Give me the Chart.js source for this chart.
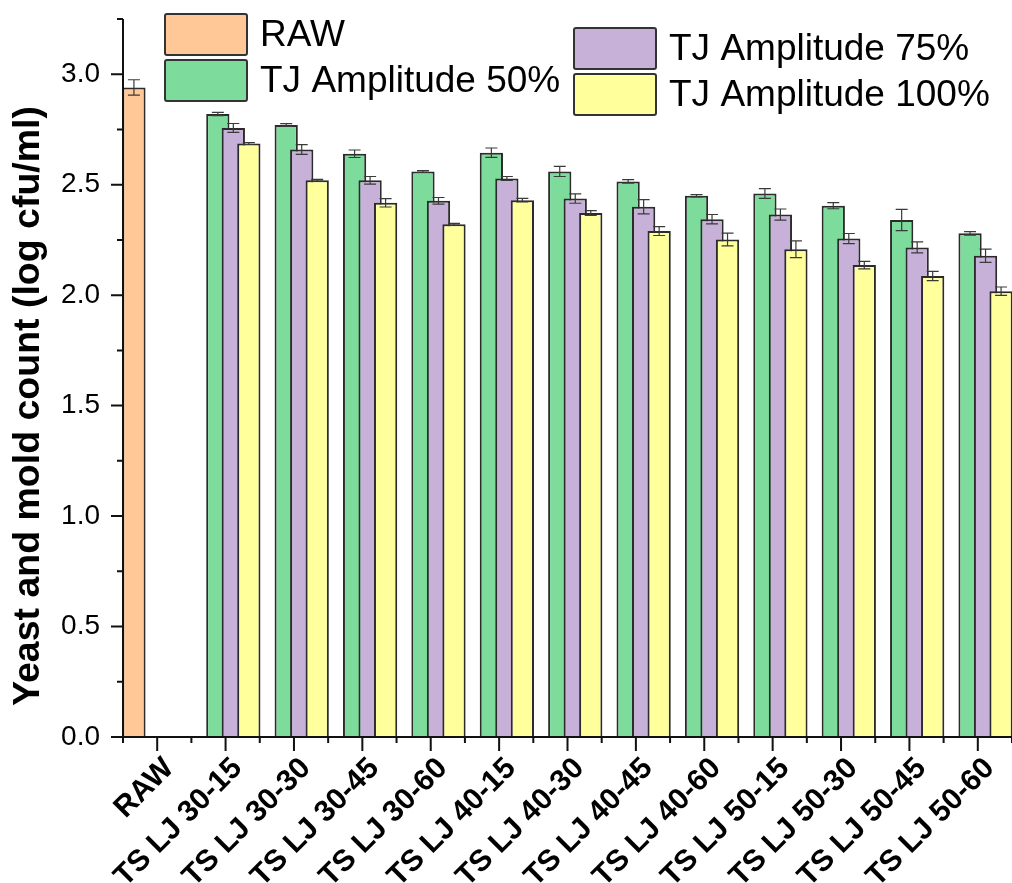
<!DOCTYPE html>
<html>
<head>
<meta charset="utf-8">
<script src="https://cdn.jsdelivr.net/npm/chart.js@4.4.1/dist/chart.umd.min.js"></script>
<style>
  body { margin: 0; background: #fff; }
  #wrap { width: 1012px; height: 883px; position: relative; }
</style>
</head>
<body>
<div id="wrap"><canvas id="chart"></canvas></div>
<script>
// categories on the x axis
const categories = ['RAW', 'TS LJ 30-15', 'TS LJ 30-30', 'TS LJ 30-45', 'TS LJ 30-60',
  'TS LJ 40-15', 'TS LJ 40-30', 'TS LJ 40-45', 'TS LJ 40-60',
  'TS LJ 50-15', 'TS LJ 50-30', 'TS LJ 50-45', 'TS LJ 50-60'];

const seriesNames = ['RAW', 'TJ Amplitude 50%', 'TJ Amplitude 75%', 'TJ Amplitude 100%'];
const yTitle = 'Yeast and mold count (log cfu/ml)';

// raw sample (only first category)
const rawMean = [2.94];
const rawErr = [0.035];

// treated samples, TS LJ 30-15 ... TS LJ 50-60
const amp50 = [2.82, 2.77, 2.64, 2.56, 2.645, 2.56, 2.515, 2.45, 2.46, 2.405, 2.34, 2.28];
const amp50Err = [0.007, 0.006, 0.017, 0.004, 0.021, 0.023, 0.008, 0.005, 0.022, 0.014, 0.048, 0.008];
const amp75 = [2.757, 2.659, 2.52, 2.427, 2.528, 2.437, 2.40, 2.344, 2.365, 2.256, 2.216, 2.178];
const amp75Err = [0.02, 0.022, 0.017, 0.015, 0.009, 0.021, 0.032, 0.021, 0.025, 0.023, 0.025, 0.030];
const amp100 = [2.686, 2.52, 2.418, 2.321, 2.43, 2.372, 2.29, 2.252, 2.208, 2.136, 2.087, 2.018];
const amp100Err = [0.004, 0.004, 0.019, 0.004, 0.008, 0.011, 0.02, 0.029, 0.038, 0.017, 0.021, 0.019];

const colors = ['#FFC896', '#7DDC9B', '#C8B1D8', '#FFFF9B'];
const edge = '#2b2b2b';
const FONT = "'Liberation Sans', Arial, sans-serif";

// pad series so every category has 4 slots
const rawData = rawMean.concat(Array(categories.length - 1).fill(null));
const rawErrData = rawErr.concat(Array(categories.length - 1).fill(null));
const pad = arr => [null].concat(arr);

const errors = [rawErrData, pad(amp50Err), pad(amp75Err), pad(amp100Err)];
const values = [rawData, pad(amp50), pad(amp75), pad(amp100)];

const datasets = values.map((v, i) => ({
  label: seriesNames[i],
  data: v,
  backgroundColor: colors[i],
  borderColor: edge,
  borderWidth: 2,
  borderSkipped: 'start',
  barPercentage: 1.5,
  categoryPercentage: 0.907
}));

// draw bars so the later series sits over the earlier one
const barOrder = {
  id: 'barOrder',
  beforeDatasetsDraw(chart) {
    const ctx = chart.ctx;
    const a = chart.chartArea;
    ctx.save();
    ctx.beginPath();
    ctx.rect(a.left, 0, a.right - a.left + 5, a.bottom + 1);
    ctx.clip();
    for (let i = 0; i < chart.data.datasets.length; i++) {
      chart.getDatasetMeta(i).controller.draw();
    }
    ctx.restore();
    return false;
  }
};

// error bars, axis lines, tick marks, y title and legend boxes
const extras = {
  id: 'extras',
  afterDraw(chart) {
    const ctx = chart.ctx;
    const x = chart.scales.x, y = chart.scales.y;
    const a = chart.chartArea;

    // error bars
    ctx.save();
    ctx.strokeStyle = '#3a3a3a';
    ctx.lineWidth = 1.2;
    chart.data.datasets.forEach((ds, i) => {
      const meta = chart.getDatasetMeta(i);
      meta.data.forEach((bar, j) => {
        const v = ds.data[j], e = errors[i][j];
        if (v == null || e == null) return;
        const top = y.getPixelForValue(v + e);
        const bot = y.getPixelForValue(v - e);
        const half = 6;
        ctx.beginPath();
        ctx.moveTo(bar.x, top); ctx.lineTo(bar.x, bot);
        ctx.moveTo(bar.x - half, top); ctx.lineTo(bar.x + half, top);
        ctx.moveTo(bar.x - half, bot); ctx.lineTo(bar.x + half, bot);
        ctx.stroke();
      });
    });
    ctx.restore();

    // axes
    ctx.save();
    ctx.strokeStyle = '#111';
    ctx.lineWidth = 2;
    ctx.beginPath();
    ctx.moveTo(a.left, a.top);
    ctx.lineTo(a.left, a.bottom);
    ctx.moveTo(a.left, a.bottom);
    ctx.lineTo(a.right, a.bottom);
    // y ticks (outward)
    y.ticks.forEach(t => {
      const py = y.getPixelForValue(t.value);
      const major = Math.abs(t.value * 2 - Math.round(t.value * 2)) < 1e-6;
      ctx.moveTo(a.left - (major ? 12 : 6), py);
      ctx.lineTo(a.left, py);
    });
    // x ticks: major at categories, minor at boundaries
    const w = x.getPixelForValue(1) - x.getPixelForValue(0);
    categories.forEach((c, i) => {
      const px = x.getPixelForValue(i);
      ctx.moveTo(px, a.bottom);
      ctx.lineTo(px, a.bottom + 14);
      ctx.moveTo(px - w / 2, a.bottom);
      ctx.lineTo(px - w / 2, a.bottom + 6);
      if (i === categories.length - 1) {
        ctx.moveTo(px + w / 2, a.bottom);
        ctx.lineTo(px + w / 2, a.bottom + 6);
      }
    });
    ctx.stroke();
    ctx.restore();

    // y axis title
    ctx.save();
    ctx.translate(29, 406);
    ctx.rotate(-Math.PI / 2);
    ctx.font = 'bold 37.5px ' + FONT;
    ctx.textAlign = 'center';
    ctx.textBaseline = 'middle';
    ctx.fillStyle = '#000';
    ctx.fillText(yTitle, 0, 0);
    ctx.restore();

    // legend
    const spots = [[165, 14], [165, 60], [574, 28], [574, 74]];
    ctx.save();
    ctx.font = '37px ' + FONT;
    ctx.textBaseline = 'middle';
    chart.data.datasets.forEach((ds, i) => {
      const [bx, by] = spots[i];
      ctx.fillStyle = ds.backgroundColor;
      ctx.strokeStyle = '#333';
      ctx.lineWidth = 2;
      ctx.beginPath();
      ctx.roundRect(bx, by, 82, 41, 2);
      ctx.fill();
      ctx.stroke();
      ctx.fillStyle = '#000';
      ctx.fillText(ds.label, bx + 95, by + 22);
    });
    ctx.restore();
  }
};

new Chart(document.getElementById('chart'), {
  type: 'bar',
  data: { labels: categories, datasets: datasets },
  plugins: [barOrder, extras],
  options: {
    responsive: true,
    maintainAspectRatio: false,
    animation: false,
    layout: { padding: { top: 19, right: 0, left: 0, bottom: 0 } },
    plugins: {
      legend: { display: false },
      tooltip: { enabled: false }
    },
    scales: {
      x: {
        grid: { display: false, drawTicks: false },
        border: { display: false },
        ticks: {
          autoSkip: false,
          maxRotation: 45,
          minRotation: 45,
          padding: 14,
          labelOffset: 12,
          color: '#000',
          font: { family: FONT, size: 30, weight: 'bold' }
        },
        afterFit(scale) {
          scale.height = 146;
          scale.paddingLeft = 0;
          scale.paddingRight = 0;
        }
      },
      y: {
        min: 0,
        max: 3.25,
        grid: { display: false, drawTicks: false },
        border: { display: false },
        ticks: {
          stepSize: 0.25,
          padding: 23,
          color: '#000',
          font: { family: FONT, size: 28 },
          callback: v => (Math.abs(v * 2 - Math.round(v * 2)) < 1e-6 ? v.toFixed(1) : '')
        },
        afterFit(scale) {
          scale.width = 123;
          scale.paddingTop = 0;
          scale.paddingBottom = 0;
        }
      }
    }
  }
});
</script>
</body>
</html>
